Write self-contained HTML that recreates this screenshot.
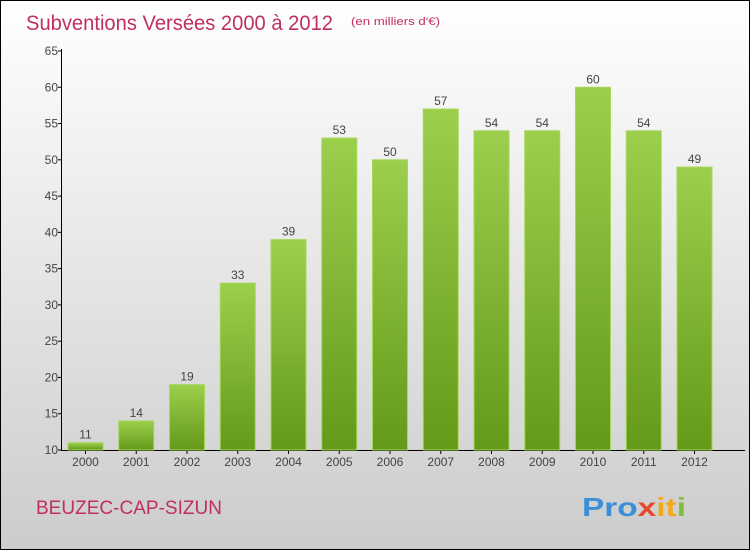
<!DOCTYPE html>
<html><head><meta charset="utf-8"><style>
html,body{margin:0;padding:0}
body{width:750px;height:550px;overflow:hidden;font-family:"Liberation Sans",sans-serif}
</style></head><body>
<svg id="chart" width="750" height="550" xmlns="http://www.w3.org/2000/svg">
<defs>
<linearGradient id="bg" x1="0" y1="0" x2="0" y2="1"><stop offset="0" stop-color="#ffffff"/><stop offset="1" stop-color="#cccccc"/></linearGradient>
<linearGradient id="bar" x1="0" y1="0" x2="0" y2="1"><stop offset="0" stop-color="#9ccf4b"/><stop offset="1" stop-color="#64991a"/></linearGradient>
</defs>
<rect x="0.5" y="0.5" width="749" height="549" fill="url(#bg)" stroke="#000"/>
<text x="26" y="30" font-size="21" fill="#c0305e" textLength="307" lengthAdjust="spacingAndGlyphs">Subventions Versées 2000 à 2012</text>
<text x="351" y="25" font-size="11" fill="#c0305e" textLength="89" lengthAdjust="spacingAndGlyphs">(en milliers d'€)</text>
<text x="36" y="514" font-size="19" fill="#c0305e" textLength="186" lengthAdjust="spacingAndGlyphs">BEUZEC-CAP-SIZUN</text>
<text x="582" y="516" font-size="26" font-weight="bold" textLength="104" lengthAdjust="spacingAndGlyphs"><tspan fill="#3b8fd9">Pro</tspan><tspan fill="#e8462d">x</tspan><tspan fill="#f2a91c">it</tspan><tspan fill="#7cc03a">i</tspan></text>
<g id="axes"></g>
<g id="bars"></g>
</svg>
<script>
const years = ["2000","2001","2002","2003","2004","2005","2006","2007","2008","2009","2010","2011","2012"];
const values = [11,14,19,33,39,53,50,57,54,54,60,54,49];
const yTicks = [10,15,20,25,30,35,40,45,50,55,60,65];
const NS="http://www.w3.org/2000/svg";
const y0=450, yTop=51, vMin=10, vMax=65;
const yScale=v=>y0-(v-vMin)*(y0-yTop)/(vMax-vMin);
const xCenter=i=>85.5+i*50.75;
const bw=35;
function mk(tag,attrs,parent){const e=document.createElementNS(NS,tag);for(const k in attrs)e.setAttribute(k,attrs[k]);parent.appendChild(e);return e;}
const axes=document.getElementById('axes'), bars=document.getElementById('bars');
let l=mk('line',{x1:61.5,y1:yTop-2,x2:61.5,y2:y0,stroke:'#000'},axes);


l=mk('line',{x1:61,y1:y0+0.5,x2:745,y2:y0+0.5,stroke:'#000'},axes);


yTicks.forEach(t=>{
  const y=yScale(t);
  mk('line',{x1:58,y1:y,x2:62,y2:y,stroke:'#000'},axes);
  const tx=mk('text',{x:58,y:y+4,'font-size':12,'text-anchor':'end',fill:'#444'},axes);
  tx.textContent=t;
  
  
});
years.forEach((yr,i)=>{
  const cx=xCenter(i), y=yScale(values[i]);
  mk('line',{x1:cx,y1:y0,x2:cx,y2:y0+4,stroke:'#000'},axes);
  const tx=mk('text',{x:cx,y:466,'font-size':12,'text-anchor':'middle',fill:'#444'},axes);
  tx.textContent=yr;
  
  
  const r=mk('rect',{x:cx-bw/2,y:y,width:bw,height:y0-y,fill:'url(#bar)',stroke:'#a6d65a','stroke-width':1},bars);
  
  
  const v=mk('text',{x:cx,y:y-4,'font-size':12,'text-anchor':'middle',fill:'#444'},bars);
  v.textContent=values[i];
  
  
});
</script>
</body></html>
